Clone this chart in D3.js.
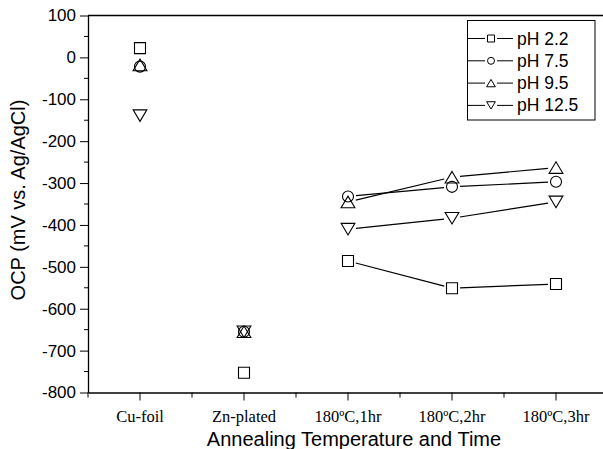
<!DOCTYPE html>
<html lang="en">
<head>
<meta charset="utf-8">
<title>OCP</title>
<script src="https://d3js.org/d3.v7.min.js"></script>
<style>
  body { margin: 0; background: #fff; }
  svg { display: block; }
</style>
</head>
<body>
<svg width="603" height="449"></svg>
<script>
// data
var categories = ["Cu-foil", "Zn-plated", "180\u00BAC,1hr", "180\u00BAC,2hr", "180\u00BAC,3hr"];
var seriesNames = ["pH 2.2", "pH 7.5", "pH 9.5", "pH 12.5"];
var pH22  = [22, -753, -486, -551, -541];
var pH75  = [-22, -655, -332, -309, -297];
var pH95  = [-18, -655, -345, -286, -263];
var pH125 = [-139, -655, -410, -384, -345];
var yTicks = [100, 0, -100, -200, -300, -400, -500, -600, -700, -800];

var allSeries = [pH22, pH75, pH95, pH125];
var shapes = ["square", "circle", "up", "down"];

var svg = d3.select("svg");
var plotLeft = 88, plotTop = 15.5, plotRight = 608, plotBottom = 392.5;

var x = d3.scaleBand().domain(categories).range([plotLeft, plotRight]).padding(0);
var y = d3.scaleLinear().domain([-800, 100]).range([plotBottom, plotTop]);
var cx = function(i) { return x(categories[i]) + x.bandwidth() / 2; };

// marker path centred at 0,0
function marker(shape, s) {
    if (shape == "square") return "M" + (-s) + "," + (-s) + "h" + 2*s + "v" + 2*s + "h" + (-2*s) + "Z";
    if (shape == "circle") return "M" + (-s) + ",0a" + s + "," + s + " 0 1,0 " + 2*s + ",0a" + s + "," + s + " 0 1,0 " + (-2*s) + ",0Z";
    var h = s * 2.1, w = s * 1.25;
    if (shape == "up") return "M0," + (-h/2) + "L" + w + "," + (h/2) + "L" + (-w) + "," + (h/2) + "Z";
    return "M0," + (h/2) + "L" + w + "," + (-h/2) + "L" + (-w) + "," + (-h/2) + "Z";
}

var sans = "Liberation Sans, Arial, sans-serif";

// axes
var yAxis = d3.axisLeft(y).tickValues(yTicks).tickSize(8).tickSizeOuter(0).tickPadding(4)
    .tickFormat(function(d) { return String(d); });
var gy = svg.append("g").attr("transform", "translate(" + plotLeft + ",0)").call(yAxis);
gy.attr("font-family", sans).attr("font-size", 17);
gy.selectAll("text").attr("fill", "#000");
gy.append("g").selectAll("line")
    .data(d3.range(-750, 100, 100))
    .enter().append("line")
    .attr("x1", -4).attr("x2", 0)
    .attr("y1", function(d) { return y(d); }).attr("y2", function(d) { return y(d); })
    .attr("stroke", "#000");

var xAxis = d3.axisBottom(x).tickSize(8).tickSizeOuter(0).tickPadding(10);
var gx = svg.append("g").attr("transform", "translate(0," + plotBottom + ")").call(xAxis);
gx.attr("font-family", "Liberation Serif, Times New Roman, serif").attr("font-size", 16.5);
gx.selectAll("text").attr("fill", "#000");
gx.append("g").selectAll("line")
    .data(categories)
    .enter().append("line")
    .attr("x1", function(d) { return x(d); }).attr("x2", function(d) { return x(d); })
    .attr("y1", 0).attr("y2", 5)
    .attr("stroke", "#000");

svg.selectAll(".domain").attr("stroke", "#000").attr("stroke-width", 1.3);
svg.selectAll(".tick line").attr("stroke", "#000");

// top frame
svg.append("line").attr("x1", plotLeft).attr("x2", 603).attr("y1", plotTop).attr("y2", plotTop)
    .attr("stroke", "#000").attr("stroke-width", 1.3);

// lines only between annealed samples, with gaps at the markers
var gap = 8;
allSeries.forEach(function(vals, si) {
    for (var i = 2; i < 4; i++) {
        var x1 = cx(i), y1 = y(vals[i]), x2 = cx(i + 1), y2 = y(vals[i + 1]);
        var len = Math.sqrt((x2 - x1) * (x2 - x1) + (y2 - y1) * (y2 - y1));
        var ux = (x2 - x1) / len, uy = (y2 - y1) / len;
        svg.append("line")
            .attr("x1", x1 + ux * gap).attr("y1", y1 + uy * gap)
            .attr("x2", x2 - ux * gap).attr("y2", y2 - uy * gap)
            .attr("stroke", "#000").attr("stroke-width", 1.2);
    }
});

// markers
allSeries.forEach(function(vals, si) {
    svg.append("g").selectAll("path")
        .data(vals)
        .enter().append("path")
        .attr("transform", function(d, i) { return "translate(" + cx(i) + "," + y(d) + ")"; })
        .attr("d", marker(shapes[si], 5.5))
        .attr("fill", "none")
        .attr("stroke", "#000")
        .attr("stroke-width", 1.1);
});

// legend
var lg = svg.append("g");
lg.append("rect").attr("x", 467.5).attr("y", 20.5).attr("width", 127.5).attr("height", 99.5)
    .attr("fill", "#fff").attr("stroke", "#000").attr("stroke-width", 1);
seriesNames.forEach(function(name, i) {
    var ly = 38.5 + i * 22.3;
    lg.append("line").attr("x1", 468).attr("x2", 485).attr("y1", ly).attr("y2", ly).attr("stroke", "#000");
    lg.append("line").attr("x1", 497).attr("x2", 513).attr("y1", ly).attr("y2", ly).attr("stroke", "#000");
    lg.append("path").attr("transform", "translate(491," + ly + ")")
        .attr("d", marker(shapes[i], 3.5)).attr("fill", "none").attr("stroke", "#000");
    lg.append("text").attr("x", 517).attr("y", ly + 6)
        .attr("font-family", sans).attr("font-size", 17.5)
        .text(name);
});

// axis titles
svg.append("text")
    .attr("transform", "translate(25,200) rotate(-90)")
    .attr("text-anchor", "middle")
    .attr("font-family", sans).attr("font-size", 20)
    .text("OCP (mV vs. Ag/AgCl)");
svg.append("text")
    .attr("x", 354).attr("y", 446)
    .attr("text-anchor", "middle")
    .attr("font-family", sans).attr("font-size", 20)
    .text("Annealing Temperature and Time");
</script>
</body>
</html>
